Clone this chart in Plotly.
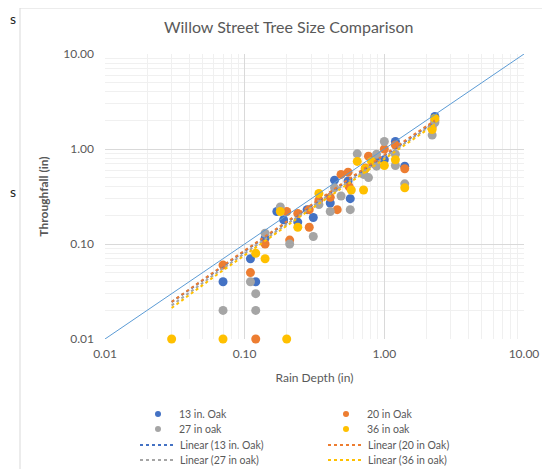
import plotly.graph_objects as go

# ---------------- data ----------------
blue_x = [0.07, 0.11, 0.12, 0.14, 0.17, 0.19, 0.24, 0.28, 0.31, 0.41, 0.44, 0.55, 0.57, 0.71, 0.88, 1.0, 1.2, 1.4, 2.3]
blue_y = [0.04, 0.07, 0.04, 0.115, 0.22, 0.18, 0.17, 0.23, 0.19, 0.27, 0.47, 0.46, 0.30, 0.55, 0.75, 0.77, 1.2, 0.66, 2.2]

orange_x = [0.07, 0.11, 0.12, 0.14, 0.20, 0.21, 0.24, 0.29, 0.29, 0.34, 0.41, 0.46, 0.49, 0.55, 0.56, 0.73, 0.77, 0.85, 1.0, 1.2, 1.4, 2.2, 2.3]
orange_y = [0.06, 0.05, 0.01, 0.10, 0.22, 0.11, 0.21, 0.23, 0.15, 0.29, 0.31, 0.23, 0.54, 0.57, 0.40, 0.63, 0.84, 0.70, 1.0, 1.1, 0.62, 1.7, 2.0]

grey_x = [0.07, 0.11, 0.12, 0.12, 0.14, 0.18, 0.21, 0.31, 0.34, 0.41, 0.44, 0.49, 0.57, 0.64, 0.71, 0.77, 0.88, 0.88, 1.0, 1.2, 1.2, 1.4, 2.2, 2.3]
grey_y = [0.02, 0.04, 0.03, 0.02, 0.13, 0.245, 0.10, 0.12, 0.26, 0.22, 0.39, 0.32, 0.23, 0.89, 0.54, 0.50, 0.66, 0.88, 1.2, 0.88, 0.67, 0.43, 1.4, 1.9]

yellow_x = [0.03, 0.07, 0.12, 0.14, 0.20, 0.18, 0.24, 0.34, 0.58, 0.71, 0.64, 0.81, 0.73, 1.0, 1.2, 1.4, 2.2, 2.3]
yellow_y = [0.01, 0.01, 0.08, 0.07, 0.01, 0.22, 0.15, 0.34, 0.37, 0.37, 0.74, 0.74, 0.62, 0.67, 0.77, 0.39, 1.6, 2.1]

series_names = ["13 in. Oak", "20 in Oak", "27 in oak", "36 in oak"]

# linear trendline coefficients (y = slope * x + intercept)
trend_slope = [0.85, 0.87, 0.82, 0.79]
trend_intercept = [-0.001, -0.0015, -0.002, -0.0025]
trend_x = [0.03, 2.3]

one_to_one = [0.01, 10.0]
tick_vals = [0.01, 0.1, 1, 10]
tick_text = ["0.01", "0.10", "1.00", "10.00"]

# ---------------- style ----------------
colors = ["#4472C4", "#ED7D31", "#A5A5A5", "#FFC000"]
FONT = "Lato"
GREY = "#595959"

OFF = 8                       # page body margin of the html
L, R, T, B = 105, 524, 54, 339  # plot area in picture pixels
W, H = 550 - OFF, 469 - OFF
def px(x):
    return (x - L) / (R - L)
def py(y):
    return (B - y) / (B - T)

fig = go.Figure()

data = [(blue_x, blue_y), (orange_x, orange_y), (grey_x, grey_y), (yellow_x, yellow_y)]
for (xs, ys), name, c in zip(data, series_names, colors):
    fig.add_trace(go.Scatter(x=xs, y=ys, mode="markers", name=name, showlegend=False,
                             marker=dict(color=c, size=9), cliponaxis=False))

fig.add_trace(go.Scatter(x=one_to_one, y=one_to_one, mode="lines",
                         line=dict(color="#5B9BD5", width=1), showlegend=False,
                         hoverinfo="skip"))

n = 40
for name, c, a, b in zip(series_names, colors, trend_slope, trend_intercept):
    lo, hi = trend_x
    xt = [lo * (hi / lo) ** (i / (n - 1)) for i in range(n)]
    yt = [a * x + b for x in xt]
    fig.add_trace(go.Scatter(x=xt, y=yt, mode="lines", name=f"Linear ({name})",
                             showlegend=False,
                             line=dict(color=c, width=2, dash="dot")))

minor_vals = [m * 10.0 ** k for k in (-2, -1, 0) for m in range(2, 10)]
axis_common = dict(type="log", range=[-2, 1], tickvals=tick_vals, ticktext=tick_text,
                   showgrid=True, gridcolor="#D9D9D9", gridwidth=1,
                   minor=dict(tickvals=minor_vals, showgrid=True, gridcolor="#F0F0F0", ticks=""),
                   zeroline=False, showline=False, ticks="",
                   tickfont=dict(family=FONT, size=12, color=GREY))

fig.update_xaxes(**axis_common, ticklabelstandoff=6,
                 title=dict(text="Rain Depth (in)", font=dict(family=FONT, size=12, color=GREY), standoff=13))
fig.update_yaxes(**axis_common, ticklabelstandoff=10,
                 title=dict(text="<b>Throughfall (in)</b>", font=dict(family=FONT, size=12, color=GREY), standoff=12))

# ---------------- manual legend (2 columns, Excel-like spacing) ----------------
legend_labels = [n for n in series_names] + [f"Linear ({n})" for n in series_names]
col_center = [158, 346]
row_y = [414, 429, 445, 460]
shapes = [dict(type="rect", xref="paper", yref="paper", x0=px(20), x1=px(560),
               y0=py(480), y1=py(8), line=dict(color="#D9D9D9", width=1), layer="below")]
annotations = [
    dict(text="Willow Street Tree Size Comparison", x=px(288), y=py(27),
         xref="paper", yref="paper", showarrow=False, xanchor="center", yanchor="middle",
         font=dict(family=FONT, size=16, color=GREY)),
    dict(text="s", x=px(8), y=py(18), xref="paper", yref="paper", showarrow=False,
         xanchor="left", yanchor="middle", font=dict(family=FONT, size=14, color="#222")),
    dict(text="s", x=px(8), y=py(191), xref="paper", yref="paper", showarrow=False,
         xanchor="left", yanchor="middle", font=dict(family=FONT, size=14, color="#222")),
]
for i, c in enumerate(colors):
    col = i % 2
    cx = col_center[col]
    ry = row_y[i // 2]
    shapes.append(dict(type="circle", xref="paper", yref="paper",
                       x0=px(cx - 3), x1=px(cx + 3), y0=py(ry + 3), y1=py(ry - 3),
                       fillcolor=c, line=dict(width=0)))
    annotations.append(dict(text=legend_labels[i], x=px(cx + 19), y=py(ry), xref="paper", yref="paper",
                            showarrow=False, xanchor="left", yanchor="middle",
                            font=dict(family=FONT, size=10.5, color=GREY)))
    ry = row_y[2 + i // 2]
    shapes.append(dict(type="line", xref="paper", yref="paper",
                       x0=px(cx - 18), x1=px(cx + 17), y0=py(ry), y1=py(ry),
                       line=dict(color=c, width=2, dash="dot")))
    annotations.append(dict(text=legend_labels[4 + i], x=px(cx + 20), y=py(ry), xref="paper", yref="paper",
                            showarrow=False, xanchor="left", yanchor="middle",
                            font=dict(family=FONT, size=10.5, color=GREY)))

fig.update_layout(
    width=W, height=H,
    margin=dict(l=L - OFF, r=550 - R, t=T - OFF, b=469 - B, autoexpand=False),
    plot_bgcolor="white", paper_bgcolor="white",
    showlegend=False,
    annotations=annotations,
    shapes=shapes,
)

fig.write_html("out.html")
